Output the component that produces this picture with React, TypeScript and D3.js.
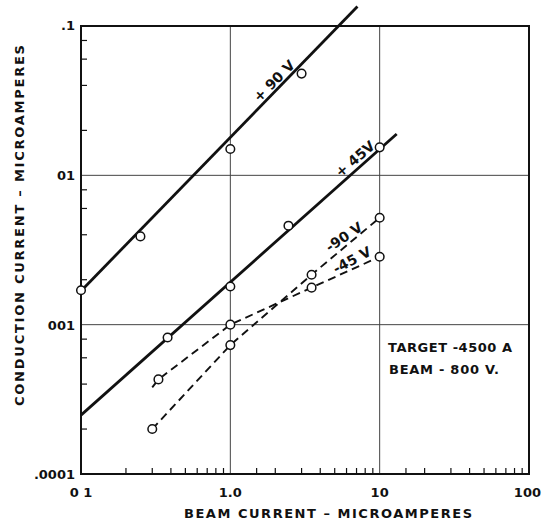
import React, { useEffect, useRef } from "react";
import * as d3 from "d3";

// measured points (beam current µA, conduction current µA)
const plus90X = [0.1, 0.25, 1.0, 3.0];
const plus90Y = [0.0017, 0.0039, 0.015, 0.048];
const plus45X = [0.38, 1.0, 2.45, 10];
const plus45Y = [0.00082, 0.0018, 0.0046, 0.0154];
const minus90X = [0.3, 1.0, 3.5, 10];
const minus90Y = [0.0002, 0.00073, 0.00216, 0.0052];
const minus45X = [0.33, 1.0, 3.5, 10];
const minus45Y = [0.00043, 0.001, 0.00177, 0.00285];

// fitted straight lines (end points)
const plus90FitX = [0.1, 7.1];
const plus90FitY = [0.00168, 0.135];
const plus45FitX = [0.1, 13];
const plus45FitY = [0.000248, 0.0189];
// dashed curves (start point of -45V extends past first circle)
const minus45LineX = [0.3, 0.33, 1.0, 3.5, 10];
const minus45LineY = [0.00038, 0.00043, 0.001, 0.00177, 0.00285];

const xTickVals = [0.1, 1, 10, 100];
const xTickLabels = ["0 1", "1.0", "10", "100"];
const yTickVals = [0.1, 0.01, 0.001, 0.0001];
const yTickLabels = [".1", "01", "001", ".0001"];
const xMinor = [
  0.2, 0.3, 0.4, 0.5, 0.6, 0.7, 0.8, 0.9,
  1.5, 2, 3, 4, 5, 6, 7, 8, 9,
  15, 20, 30, 40, 50, 60, 70, 80, 90,
];
const yMinor = [0.08, 0.06, 0.04, 0.02, 0.008, 0.006, 0.004, 0.002, 0.0008, 0.0006, 0.0004, 0.0002];

const FONT = "'DejaVu Sans', Verdana, sans-serif";

const App = () => {
  const ref = useRef<SVGSVGElement>(null);

  useEffect(() => {
    const svg = d3.select(ref.current);
    svg.selectAll("*").remove();

    const width = 543;
    const height = 525;
    const margin = { top: 26, right: 14, bottom: 51, left: 81 };

    const x = d3.scaleLog().domain([0.1, 100]).range([margin.left, width - margin.right]);
    const y = d3.scaleLog().domain([0.0001, 0.1]).range([height - margin.bottom, margin.top]);

    svg.attr("width", width).attr("height", height);
    svg.append("rect").attr("width", width).attr("height", height).attr("fill", "#fff");

    const x0 = x.range()[0], x1 = x.range()[1];
    const y0 = y.range()[0], y1 = y.range()[1];

    // grid lines
    const grid = svg.append("g").attr("stroke", "#444").attr("stroke-width", 1);
    [1, 10].forEach((v) =>
      grid.append("line").attr("x1", x(v)).attr("x2", x(v)).attr("y1", y1).attr("y2", y0)
    );
    [0.01, 0.001].forEach((v) =>
      grid.append("line").attr("x1", x0).attr("x2", x1).attr("y1", y(v)).attr("y2", y(v))
    );

    // minor ticks pointing inward
    const ticks = svg.append("g").attr("stroke", "#111").attr("stroke-width", 1.2);
    xMinor.forEach((v) =>
      ticks.append("line").attr("x1", x(v)).attr("x2", x(v)).attr("y1", y0).attr("y2", y0 - 6)
    );
    yMinor.forEach((v) =>
      ticks.append("line").attr("x1", x0).attr("x2", x0 + 6).attr("y1", y(v)).attr("y2", y(v))
    );

    // frame
    svg.append("rect")
      .attr("x", x0).attr("y", y1)
      .attr("width", x1 - x0).attr("height", y0 - y1)
      .attr("fill", "none").attr("stroke", "#111").attr("stroke-width", 2);

    // tick labels
    const lab = svg.append("g")
      .attr("font-family", FONT).attr("font-weight", "bold").attr("font-size", 13).attr("fill", "#111");
    xTickVals.forEach((v, i) =>
      lab.append("text").attr("x", i === 3 ? width - 2 : x(v)).attr("y", y0 + 23)
        .attr("text-anchor", i === 3 ? "end" : "middle").text(xTickLabels[i])
    );
    yTickVals.forEach((v, i) =>
      lab.append("text").attr("x", x0 - 6).attr("y", y(v) + (i === 0 ? 4 : 5))
        .attr("text-anchor", "end").text(yTickLabels[i])
    );

    // axis titles
    svg.append("text")
      .attr("x", 184).attr("y", 518)
      .attr("font-family", FONT).attr("font-weight", "bold").attr("font-size", 13)
      .attr("textLength", 288).attr("lengthAdjust", "spacing").attr("fill", "#111")
      .text("BEAM CURRENT  –  MICROAMPERES");
    svg.append("text")
      .attr("transform", "translate(24,406) rotate(-90)")
      .attr("font-family", FONT).attr("font-weight", "bold").attr("font-size", 13)
      .attr("textLength", 361).attr("lengthAdjust", "spacing").attr("fill", "#111")
      .text("CONDUCTION  CURRENT  –  MICROAMPERES");

    const line = d3.line<[number, number]>().x((d) => x(d[0])).y((d) => y(d[1]));
    const zip = (xs: number[], ys: number[]) => xs.map((v, i) => [v, ys[i]] as [number, number]);

    // solid fitted lines
    [[plus90FitX, plus90FitY], [plus45FitX, plus45FitY]].forEach(([xs, ys]) =>
      svg.append("path").attr("d", line(zip(xs, ys))).attr("fill", "none")
        .attr("stroke", "#111").attr("stroke-width", 2.8)
    );

    // dashed curves
    [[minus90X, minus90Y], [minus45LineX, minus45LineY]].forEach(([xs, ys]) =>
      svg.append("path").attr("d", line(zip(xs, ys))).attr("fill", "none")
        .attr("stroke", "#111").attr("stroke-width", 1.9).attr("stroke-dasharray", "8,5")
    );

    // circles
    const pts = [
      ...zip(plus90X, plus90Y), ...zip(plus45X, plus45Y),
      ...zip(minus90X, minus90Y), ...zip(minus45X, minus45Y),
    ];
    svg.append("g").selectAll("circle").data(pts).join("circle")
      .attr("cx", (d) => x(d[0])).attr("cy", (d) => y(d[1])).attr("r", 4.3)
      .attr("fill", "#fff").attr("stroke", "#111").attr("stroke-width", 1.5);

    // series labels
    const seriesLabels = [
      { t: "+ 90 V", x: 274, y: 81, a: -45 },
      { t: "+ 45V", x: 355, y: 159, a: -41 },
      { t: "-90 V", x: 344, y: 237, a: -34 },
      { t: "-45 V", x: 352, y: 260, a: -28 },
    ];
    seriesLabels.forEach((s) =>
      svg.append("text")
        .attr("transform", `translate(${s.x},${s.y}) rotate(${s.a})`)
        .attr("text-anchor", "middle").attr("dy", "0.35em")
        .attr("font-family", FONT).attr("font-weight", "bold").attr("font-size", 14)
        .attr("fill", "#111").text(s.t)
    );

    // annotation
    const note = svg.append("g")
      .attr("font-family", FONT).attr("font-weight", "bold").attr("font-size", 13).attr("fill", "#111");
    note.append("text").attr("x", 388).attr("y", 352)
      .attr("textLength", 124).attr("lengthAdjust", "spacing").text("TARGET -4500 A");
    note.append("text").attr("x", 389).attr("y", 374)
      .attr("textLength", 110).attr("lengthAdjust", "spacing").text("BEAM  -  800 V.");
  }, []);

  return <svg ref={ref} style={{ position: "absolute", left: 0, top: 0 }}></svg>;
};

export default App;
